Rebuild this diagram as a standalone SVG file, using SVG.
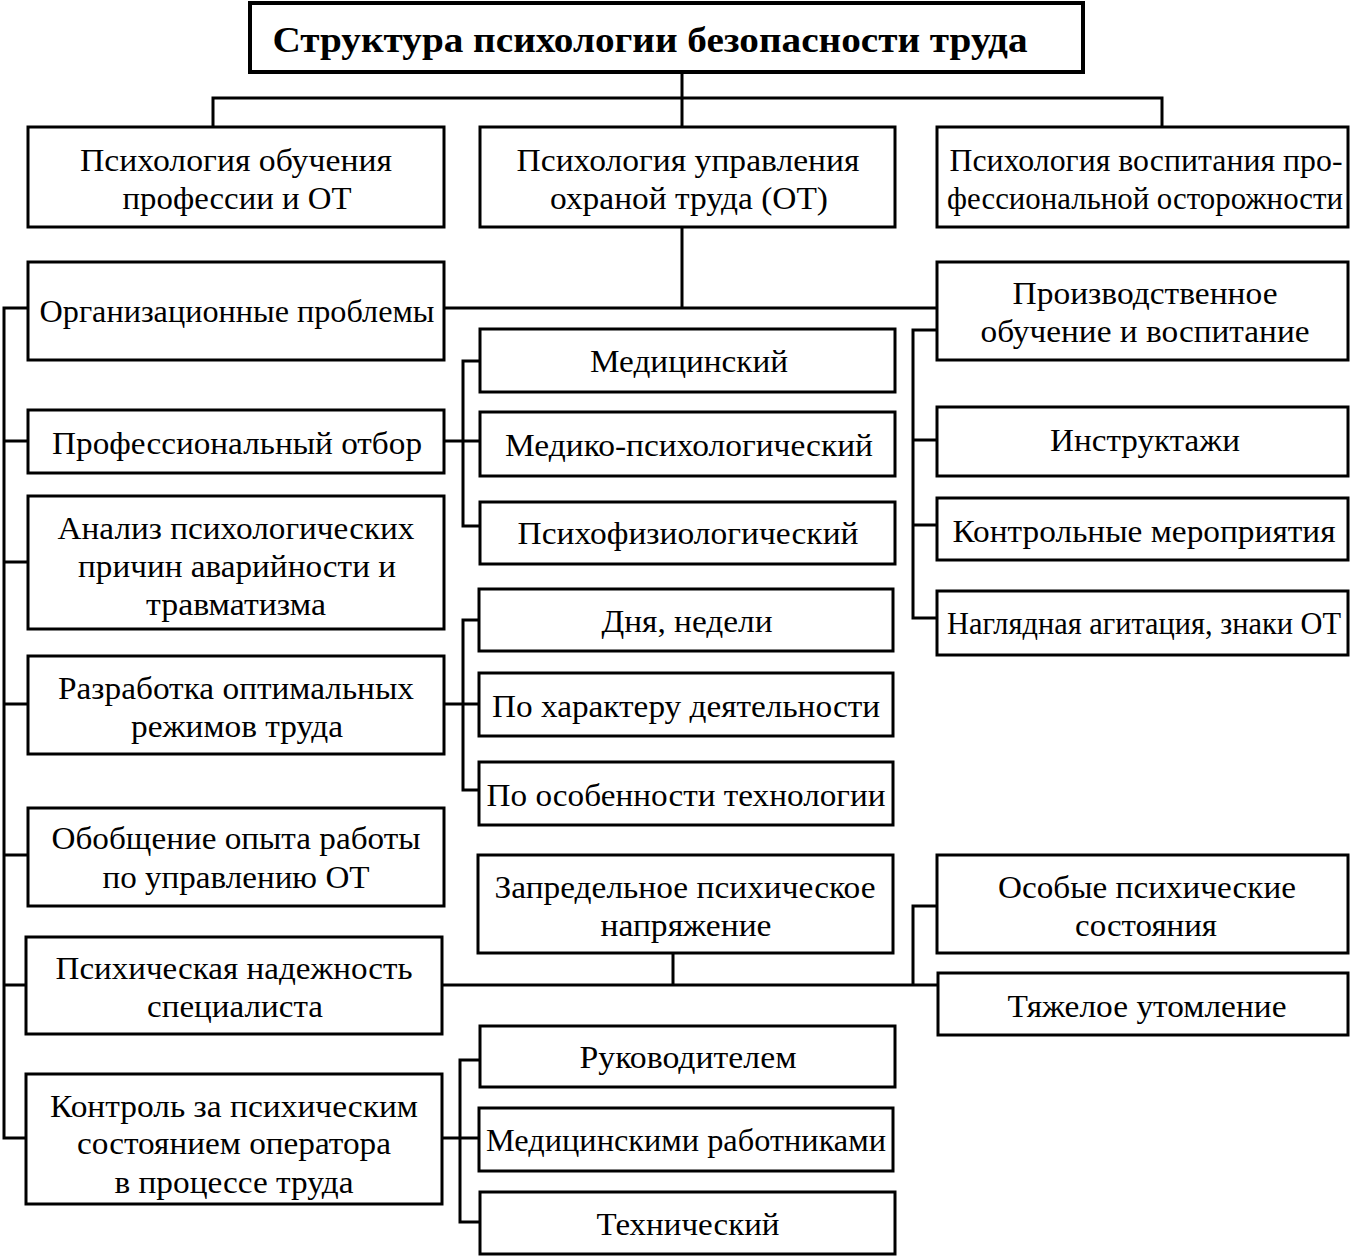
<svg xmlns="http://www.w3.org/2000/svg" width="1350" height="1257" viewBox="0 0 1350 1257">
<style>
rect{fill:#fff;stroke:#000;stroke-width:3}
text{font-family:"Liberation Serif","Times New Roman",serif;font-size:32px;fill:#000;text-anchor:middle}
.t{font-weight:bold;font-size:36px}
#connectors path{fill:none;stroke:#000;stroke-width:3}
</style>
<rect width="1350" height="1257" style="fill:#fff;stroke:none"/>
<g id="connectors">
<path d="M682 72V127M213 127V98H1162V127"/>
<path d="M682 227V308M444 308H937"/>
<path d="M28 308H4V1138H26M4 441H28M4 562H28M4 704H28M4 855H28M4 985H26"/>
<path d="M444 441H480M480 361H463V526H480"/>
<path d="M444 704H479M479 620H463V790H479"/>
<path d="M937 330H913V618H937M913 440H937M913 525H937"/>
<path d="M442 985H938M673 953V985M937 906H913V985"/>
<path d="M442 1138H479M480 1060H460V1222H480"/>
</g>
<g id="title"><rect x="250" y="3" width="833" height="69" style="stroke-width:4"/><text class="t" x="650" y="52" textLength="755" lengthAdjust="spacingAndGlyphs">Структура психологии безопасности труда</text></g>
<g id="n-obuch"><rect x="28" y="127" width="416" height="100"/><text x="236" y="171" textLength="312" lengthAdjust="spacingAndGlyphs">Психология обучения</text><text x="237" y="209" textLength="229" lengthAdjust="spacingAndGlyphs">профессии и ОТ</text></g>
<g id="n-uprav"><rect x="480" y="127" width="415" height="100"/><text x="688" y="171" textLength="343" lengthAdjust="spacingAndGlyphs">Психология управления</text><text x="689" y="209" textLength="278" lengthAdjust="spacingAndGlyphs">охраной труда (ОТ)</text></g>
<g id="n-vosp"><rect x="937" y="127" width="411" height="100"/><text x="1146" y="171" textLength="393" lengthAdjust="spacingAndGlyphs">Психология воспитания про-</text><text x="1145" y="209" textLength="396" lengthAdjust="spacingAndGlyphs">фессиональной осторожности</text></g>
<g id="n-org"><rect x="28" y="262" width="416" height="98"/><text x="237" y="322" textLength="395" lengthAdjust="spacingAndGlyphs">Организационные проблемы</text></g>
<g id="n-otbor"><rect x="28" y="410" width="416" height="63"/><text x="237" y="454" textLength="370" lengthAdjust="spacingAndGlyphs">Профессиональный отбор</text></g>
<g id="n-analiz"><rect x="28" y="496" width="416" height="133"/><text x="236" y="539" textLength="357" lengthAdjust="spacingAndGlyphs">Анализ психологических</text><text x="237" y="577" textLength="318" lengthAdjust="spacingAndGlyphs">причин аварийности и</text><text x="236" y="615" textLength="180" lengthAdjust="spacingAndGlyphs">травматизма</text></g>
<g id="n-razrab"><rect x="28" y="656" width="416" height="98"/><text x="236" y="699" textLength="356" lengthAdjust="spacingAndGlyphs">Разработка оптимальных</text><text x="237" y="737" textLength="212" lengthAdjust="spacingAndGlyphs">режимов труда</text></g>
<g id="n-obobsh"><rect x="28" y="808" width="416" height="98"/><text x="236" y="849" textLength="369" lengthAdjust="spacingAndGlyphs">Обобщение опыта работы</text><text x="236" y="888" textLength="267" lengthAdjust="spacingAndGlyphs">по управлению ОТ</text></g>
<g id="n-nadezh"><rect x="26" y="937" width="416" height="97"/><text x="234" y="979" textLength="357" lengthAdjust="spacingAndGlyphs">Психическая надежность</text><text x="235" y="1017" textLength="176" lengthAdjust="spacingAndGlyphs">специалиста</text></g>
<g id="n-kontrol"><rect x="26" y="1074" width="416" height="130"/><text x="234" y="1117" textLength="368" lengthAdjust="spacingAndGlyphs">Контроль за психическим</text><text x="234" y="1154" textLength="314" lengthAdjust="spacingAndGlyphs">состоянием оператора</text><text x="234" y="1193" textLength="239" lengthAdjust="spacingAndGlyphs">в процессе труда</text></g>
<g id="n-med"><rect x="480" y="329" width="415" height="63"/><text x="689" y="372" textLength="198" lengthAdjust="spacingAndGlyphs">Медицинский</text></g>
<g id="n-medpsy"><rect x="480" y="412" width="415" height="64"/><text x="689" y="456" textLength="368" lengthAdjust="spacingAndGlyphs">Медико-психологический</text></g>
<g id="n-psyfiz"><rect x="480" y="502" width="415" height="62"/><text x="688" y="544" textLength="341" lengthAdjust="spacingAndGlyphs">Психофизиологический</text></g>
<g id="n-dnya"><rect x="479" y="589" width="414" height="62"/><text x="687" y="632" textLength="171" lengthAdjust="spacingAndGlyphs">Дня, недели</text></g>
<g id="n-harakter"><rect x="479" y="673" width="414" height="63"/><text x="686" y="717" textLength="388" lengthAdjust="spacingAndGlyphs">По характеру деятельности</text></g>
<g id="n-osob-tech"><rect x="479" y="762" width="414" height="63"/><text x="686" y="806" textLength="399" lengthAdjust="spacingAndGlyphs">По особенности технологии</text></g>
<g id="n-zapred"><rect x="478" y="855" width="415" height="98"/><text x="685" y="898" textLength="381" lengthAdjust="spacingAndGlyphs">Запредельное психическое</text><text x="686" y="936" textLength="171" lengthAdjust="spacingAndGlyphs">напряжение</text></g>
<g id="n-ruk"><rect x="480" y="1026" width="415" height="61"/><text x="688" y="1068" textLength="217" lengthAdjust="spacingAndGlyphs">Руководителем</text></g>
<g id="n-medrab"><rect x="479" y="1108" width="414" height="63"/><text x="686" y="1151" textLength="400" lengthAdjust="spacingAndGlyphs">Медицинскими работниками</text></g>
<g id="n-tech"><rect x="480" y="1192" width="415" height="62"/><text x="688" y="1235" textLength="183" lengthAdjust="spacingAndGlyphs">Технический</text></g>
<g id="n-proizv"><rect x="937" y="262" width="411" height="98"/><text x="1145" y="304" textLength="265" lengthAdjust="spacingAndGlyphs">Производственное</text><text x="1145" y="342" textLength="329" lengthAdjust="spacingAndGlyphs">обучение и воспитание</text></g>
<g id="n-instr"><rect x="937" y="407" width="411" height="69"/><text x="1145" y="451" textLength="190" lengthAdjust="spacingAndGlyphs">Инструктажи</text></g>
<g id="n-kontrmer"><rect x="937" y="498" width="411" height="62"/><text x="1144" y="542" textLength="383" lengthAdjust="spacingAndGlyphs">Контрольные мероприятия</text></g>
<g id="n-nagl"><rect x="937" y="591" width="411" height="64"/><text x="1144" y="634" textLength="394" lengthAdjust="spacingAndGlyphs">Наглядная агитация, знаки ОТ</text></g>
<g id="n-osobye"><rect x="937" y="855" width="411" height="98"/><text x="1147" y="898" textLength="298" lengthAdjust="spacingAndGlyphs">Особые психические</text><text x="1146" y="936" textLength="142" lengthAdjust="spacingAndGlyphs">состояния</text></g>
<g id="n-tyazh"><rect x="938" y="973" width="410" height="62"/><text x="1147" y="1017" textLength="279" lengthAdjust="spacingAndGlyphs">Тяжелое утомление</text></g>
</svg>
